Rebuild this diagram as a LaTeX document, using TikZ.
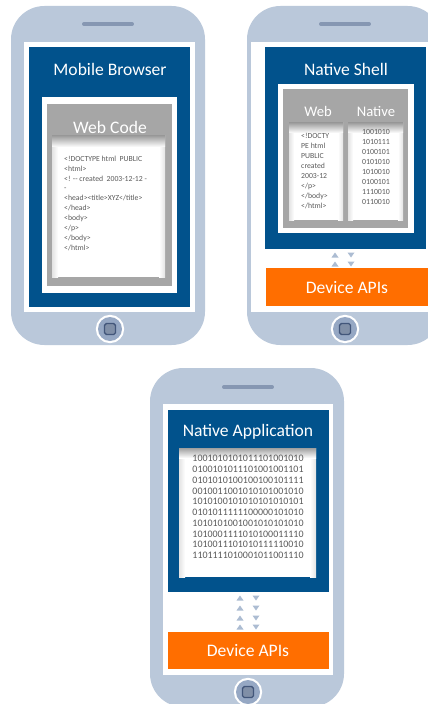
\documentclass[tikz,border=0pt]{standalone}
\usepackage{fontspec}
\setmainfont{Carlito}
\usepackage{tikz}

\definecolor{phonebody}{RGB}{186,200,218}
\definecolor{speaker}{RGB}{134,151,178}
\definecolor{screenblue}{RGB}{1,82,140}
\definecolor{apiorange}{RGB}{255,110,0}
\definecolor{framegray}{RGB}{166,166,166}
\definecolor{codegray}{RGB}{90,90,90}
\definecolor{arrowgray}{RGB}{172,188,210}
\definecolor{buttonfill}{RGB}{150,168,196}
\definecolor{buttondark}{RGB}{66,86,122}

\tikzset{
	phone/.style={fill=phonebody, rounded corners=1cm},
	speakerline/.style={draw=speaker, line width=3.4pt, line cap=round},
	title/.style={text=white, inner sep=0pt, font=\fontsize{15}{18}\selectfont},
	colhead/.style={text=white, inner sep=0pt, font=\fontsize{12.5}{15}\selectfont},
	code/.style={text=codegray, inner sep=0pt, align=left, font=\fontsize{6.6}{8.5}\selectfont},
	bits/.style={text=codegray, inner sep=0pt, align=center, font=\fontsize{6.7}{8.5}\selectfont},
	bigbits/.style={text=codegray, inner sep=0pt, align=center, font=\fontsize{8.5}{9.2}\selectfont},
	upmark/.style={fill=arrowgray},
	topshade/.style={top color=gray!75, bottom color=white},
	leftshade/.style={left color=gray!22, right color=white},
	rightshade/.style={left color=white, right color=gray!22},
}

\begin{document}
\begin{tikzpicture}[x=0.03cm, y=-0.03cm]
	
	\useasboundingbox (0,0) rectangle (428,704);
	\clip (0,0) rectangle (428,704);
	
	% mobile browser
	\fill[phone] (11,6) rectangle (205,345);
	\draw[speakerline] (84,24) -- (132,24);
	\fill[white] (24,42) rectangle (195,312);
	\fill[screenblue] (29,47) rectangle (190,307);
	\node[title] (browser) at (110,69) {Mobile Browser};
	\fill[white] (42,97) rectangle (177,293);
	\fill[framegray] (47,104) rectangle (172,286);
	\node[title] (webcode) at (110,127) {Web Code};
	\fill[white] (52,136) rectangle (165,277);
	\shade[leftshade] (52,136) rectangle (58,277);
	\shade[rightshade] (159,136) rectangle (165,277);
	\shade[topshade] (52,136) rectangle (165,147);
	\node[code, anchor=north west] (html) at (64,155.5) {<!DOCTYPE html \ PUBLIC\\<html>\\<! -{}- created \ 2003-12-12 -\\-\\<head><title>XYZ</title>\\</head>\\<body>\\</p>\\</body>\\</html>};
	\fill[white, draw=white, line width=2pt] (110,329) circle (13);
	\fill[buttonfill] (110,329) circle (12);
	\draw[buttondark, fill=buttonfill!85!black, line width=1.2pt, rounded corners=1.5pt] (104.5,323.5) rectangle (115.5,334.5);
	
	% native shell
	\fill[phone] (247,6) rectangle (441,345);
	\draw[speakerline] (321,24) -- (369,24);
	\fill[white] (251,42) rectangle (428,312);
	\foreach \y in {246,255,264}{
		\fill[upmark] (331.5,\y+2.5) -- (338.5,\y+2.5) -- (335,\y-2.5) -- cycle;
		\fill[upmark] (347.5,\y-2.5) -- (354.5,\y-2.5) -- (351,\y+2.5) -- cycle;
	}
	\fill[screenblue] (265,47) rectangle (426,249);
	\node[title] (shell) at (346,69) {Native Shell};
	\fill[white] (278,84) rectangle (414,233);
	\fill[framegray] (283,89) rectangle (408,228);
	\node[colhead] (web) at (318,111) {Web};
	\node[colhead] (native) at (376,111) {Native};
	\fill[white] (289,123) rectangle (343,220);
	\shade[leftshade] (289,123) rectangle (294,220);
	\shade[rightshade] (338,123) rectangle (343,220);
	\shade[topshade] (289,123) rectangle (343,133);
	\fill[white] (348,123) rectangle (403,220);
	\shade[leftshade] (348,123) rectangle (353,220);
	\shade[rightshade] (398,123) rectangle (403,220);
	\shade[topshade] (348,123) rectangle (403,133);
	\node[code, anchor=north west] (webtext) at (301,133.5) {<!DOCTY\\PE html\\PUBLIC\\created\\2003-12\\</p>\\</body>\\</html>};
	\node[bits, anchor=north] (nativetext) at (376,129.5) {1001010\\1010111\\0100101\\0101010\\1010010\\0100101\\1110010\\0110010};
	\fill[apiorange] (266,268) rectangle (428,306);
	\node[title] (api) at (347,288) {Device APIs};
	\fill[white, draw=white, line width=2pt] (345,329) circle (13);
	\fill[buttonfill] (345,329) circle (12);
	\draw[buttondark, fill=buttonfill!85!black, line width=1.2pt, rounded corners=1.5pt] (339.5,323.5) rectangle (350.5,334.5);
	
	% native application
	\fill[phone] (150,368) rectangle (344,707);
	\draw[speakerline] (224,387) -- (272,387);
	\fill[white] (163,404) rectangle (333,675);
	\fill[screenblue] (168,410) rectangle (329,592);
	\node[title] (app) at (248,432) {Native Application};
	\fill[white] (179,448) rectangle (316,577);
	\shade[leftshade] (179,448) rectangle (185,577);
	\shade[rightshade] (310,448) rectangle (316,577);
	\shade[topshade] (179,448) rectangle (316,458);
	\node[bigbits, anchor=north] (binary) at (248,455) {1001010101011101001010\\0100101011101001001101\\0101010100100100101111\\0010011001010101001010\\1010100101010101010101\\0101011111100000101010\\1010101001001010101010\\1010001111010100011110\\1010011101010111110010\\1101111010001011001110};
	\foreach \y in {598,608,618,627}{
		\fill[upmark] (236.5,\y+2.5) -- (243.5,\y+2.5) -- (240,\y-2.5) -- cycle;
		\fill[upmark] (252.5,\y-2.5) -- (259.5,\y-2.5) -- (256,\y+2.5) -- cycle;
	}
	\fill[apiorange] (168,632) rectangle (329,669);
	\node[title] (api2) at (248,651) {Device APIs};
	\fill[white, draw=white, line width=2pt] (248,692) circle (13);
	\fill[buttonfill] (248,692) circle (12);
	\draw[buttondark, fill=buttonfill!85!black, line width=1.2pt, rounded corners=1.5pt] (242.5,686.5) rectangle (253.5,697.5);
	
\end{tikzpicture}
\end{document}
